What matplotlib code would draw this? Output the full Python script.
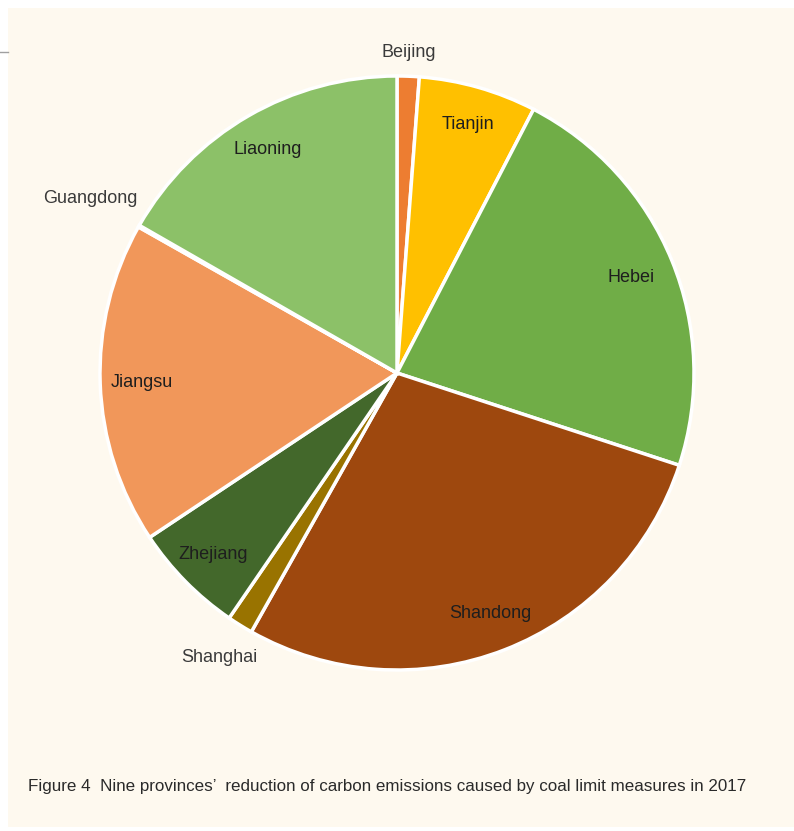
import numpy as np
import matplotlib
matplotlib.use("Agg")
import matplotlib.pyplot as plt
from matplotlib.patches import Rectangle

# share of the 2017 reduction, clockwise from 12 o'clock
provinces = ["Beijing", "Tianjin", "Hebei", "Shandong", "Shanghai",
             "Zhejiang", "Jiangsu", "Guangdong", "Liaoning"]
shares = [1.2, 6.4, 22.4, 28.1, 1.4, 6.1, 17.5, 0.1, 16.7]
colors = ["#ED7D31", "#FFC000", "#70AD47", "#9E480E", "#997300",
          "#43682B", "#F1975A", "#FFCD33", "#8CC168"]
# label radius as fraction of the pie radius (small slices get theirs outside)
label_r = [1.08, 0.87, 0.85, 0.87, 1.13, 0.87, 0.86, 1.19, 0.87]

caption = ("Figure 4  Nine provinces\u2019  reduction of carbon emissions "
           "caused by coal limit measures in 2017")

W, H = 794, 831
fig = plt.figure(figsize=(W / 100, H / 100), dpi=100, facecolor="white")
fig.add_artist(Rectangle((8 / W, 4 / H), 1, 1 - 12 / H, transform=fig.transFigure,
                         facecolor="#FEF9EF", edgecolor="none", zorder=0))
fig.add_artist(plt.Line2D([0, 8 / W], [1 - 52 / H] * 2, transform=fig.transFigure,
                          color="#A0A0A0", lw=1))

font = ["Liberation Sans", "DejaVu Sans"]

cx, cy, R = 397, 373, 297
ax = fig.add_axes([(cx - R) / W, (H - cy - R) / H, 2 * R / W, 2 * R / H])
ax.set_facecolor("none")
wedges, _ = ax.pie(shares, colors=colors, startangle=90, counterclock=False,
                   wedgeprops=dict(edgecolor="white", linewidth=2.5),
                   frame=False)
ax.set_xlim(-1, 1)
ax.set_ylim(-1, 1)
ax.set_aspect("auto")
ax.axis("off")

for w, name, r in zip(wedges, provinces, label_r):
    ang = np.deg2rad((w.theta1 + w.theta2) / 2)
    inside = r < 1
    ax.text(r * np.cos(ang), r * np.sin(ang), name, ha="center", va="center",
            fontsize=13, family=font, color="#1E1E1E" if inside else "#3A3A3A",
            clip_on=False)

cap = fig.text(28 / W, 1 - 787 / H, caption, ha="left", va="center",
               fontsize=13, family=font, color="#2A2A2A")
# shrink the caption so it spans x = 28..744 px
renderer = fig.canvas.get_renderer()
width = cap.get_window_extent(renderer).width
cap.set_fontsize(13 * min(1.0, 716 / width))

fig.savefig("out.png", dpi=100, facecolor="white")
